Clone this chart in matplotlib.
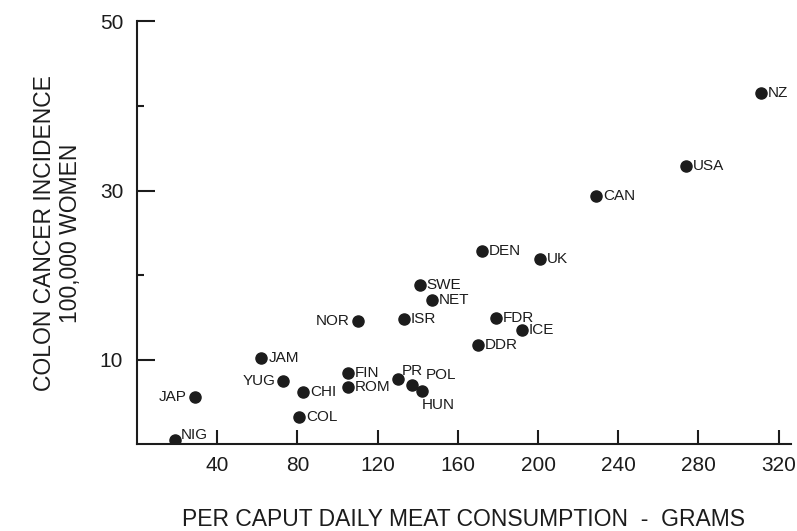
import numpy as np
import matplotlib.pyplot as plt

plt.rc('font', family=['Liberation Sans', 'DejaVu Sans'])

# per caput daily meat consumption (g) vs colon cancer incidence per 100,000 women
countries = ['NIG', 'JAP', 'JAM', 'YUG', 'CHI', 'COL', 'FIN', 'ROM', 'PR', 'POL',
             'HUN', 'NOR', 'ISR', 'SWE', 'NET', 'DEN', 'UK', 'FDR', 'ICE', 'DDR',
             'CAN', 'USA', 'NZ']
meat = [19, 29, 62, 73, 83, 81, 105, 105, 130, 137,
        142, 110, 133, 141, 147, 172, 201, 179, 192, 170,
        229, 274, 311]
incidence = [0.5, 5.6, 10.2, 7.5, 6.2, 3.2, 8.4, 6.8, 7.7, 7.0,
             6.3, 14.6, 14.8, 18.8, 17.1, 22.9, 21.9, 14.9, 13.5, 11.8,
             29.3, 32.9, 41.5]

# label placement (offset in points, alignment)
left = {'JAP', 'YUG', 'NOR'}
special = {'NIG': (4, 4, 'left'), 'PR': (3, 6, 'left'),
           'POL': (10, 7, 'left'), 'HUN': (0, -10, 'left')}

ink = '#1c1c1c'
fig = plt.figure(figsize=(7.97, 5.31), dpi=100)
ax = fig.add_axes([0.172, 0.163, 0.82, 0.797])

ax.plot(meat, incidence, 'o', color=ink, markersize=8)

for name, x, y in zip(countries, meat, incidence):
    if name in special:
        dx, dy, ha = special[name]
    elif name in left:
        dx, dy, ha = -6, 0, 'right'
    else:
        dx, dy, ha = 5, 0, 'left'
    ax.annotate(name, (x, y), xytext=(dx, dy), textcoords='offset points',
                ha=ha, va='center', fontsize=11, color=ink)

ax.set_xlim(0, 326)
ax.set_ylim(0, 50)
ax.set_xticks(range(40, 321, 40))
ax.set_yticks([10, 30, 50])
ax.set_yticks([20, 40], minor=True)

for s in ['top', 'right']:
    ax.spines[s].set_visible(False)
for s in ['left', 'bottom']:
    ax.spines[s].set_linewidth(1.5)
    ax.spines[s].set_color(ink)

ax.tick_params(axis='y', which='major', direction='in', length=13, width=1.5,
               labelsize=15, pad=10, colors=ink)
ax.tick_params(axis='y', which='minor', direction='in', length=5, width=1.5, colors=ink)
ax.tick_params(axis='x', direction='in', length=10, width=1.5,
               labelsize=15, pad=8, colors=ink)

ax.set_ylabel('COLON CANCER INCIDENCE\n100,000 WOMEN', fontsize=16.5,
              labelpad=13, color=ink, linespacing=1.15)
ax.set_xlabel('PER CAPUT DAILY MEAT CONSUMPTION  -  GRAMS', fontsize=16.5,
              labelpad=24, color=ink)

plt.savefig('out.png', dpi=100)
